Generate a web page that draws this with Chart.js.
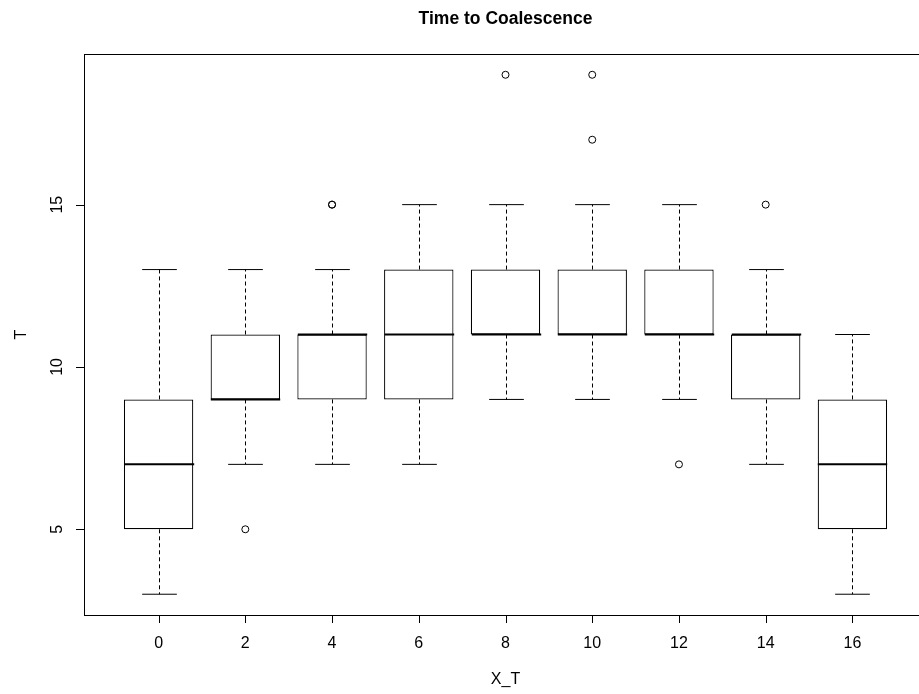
<!DOCTYPE html>
<html>
<head>
<meta charset="utf-8">
<script src="https://cdn.jsdelivr.net/npm/chart.js@4/dist/chart.umd.min.js"></script>
<style>
  html, body { margin: 0; padding: 0; background: #fff; overflow: hidden; }
  #wrap { width: 940px; height: 694px; }
</style>
</head>
<body>
<div id="wrap"><canvas id="boxChart" width="940" height="694"></canvas></div>
<script>
// categories of X_T and the five-number summaries
const categories = ["0", "2", "4", "6", "8", "10", "12", "14", "16"];
const whiskerLow = [3, 7, 7, 7, 9, 9, 9, 7, 3];
const boxLow = [5, 9, 9, 9, 11, 11, 11, 9, 5];
const medians = [7, 9, 11, 11, 11, 11, 11, 11, 7];
const boxHigh = [9, 11, 11, 13, 13, 13, 13, 11, 9];
const whiskerHigh = [13, 13, 13, 15, 15, 15, 15, 13, 11];
// outliers: category index + value
const outlierCat = [1, 2, 2, 4, 5, 5, 6, 7];
const outlierVal = [5, 15, 15, 19, 17, 19, 7, 15];
const yTicks = [5, 10, 15];

const chartTitle = "Time to Coalescence";
const xTitle = "X_T";
const yTitle = "T";

const FONT = "'Liberation Sans', Arial, sans-serif";

const positions = categories.map((c, i) => i + 1);

const boxPlugin = {
  id: "boxExtras",
  afterDatasetsDraw(chart) {
    const ctx = chart.ctx;
    const x = chart.scales.x, y = chart.scales.y;
    const unit = x.getPixelForValue(2) - x.getPixelForValue(1);
    ctx.save();
    ctx.strokeStyle = "#000";
    positions.forEach((p, i) => {
      const cx = Math.round(x.getPixelForValue(p)) + 0.5;
      // dashed whiskers
      ctx.lineWidth = 1;
      ctx.setLineDash([4, 3]);
      ctx.beginPath();
      ctx.moveTo(cx, y.getPixelForValue(boxHigh[i]));
      ctx.lineTo(cx, y.getPixelForValue(whiskerHigh[i]));
      ctx.moveTo(cx, y.getPixelForValue(boxLow[i]));
      ctx.lineTo(cx, y.getPixelForValue(whiskerLow[i]));
      ctx.stroke();
      // caps
      ctx.setLineDash([]);
      const half = unit * 0.2;
      ctx.beginPath();
      [whiskerHigh[i], whiskerLow[i]].forEach(v => {
        const py = y.getPixelForValue(v);
        ctx.moveTo(cx - half, py);
        ctx.lineTo(cx + half, py);
      });
      ctx.stroke();
      // median
      ctx.lineWidth = 2;
      const bh = unit * 0.4;
      const my = y.getPixelForValue(medians[i]);
      ctx.beginPath();
      ctx.moveTo(cx - bh, my);
      ctx.lineTo(cx + bh, my);
      ctx.stroke();
    });
    ctx.restore();
  },
  afterDraw(chart) {
    const ctx = chart.ctx;
    const a = chart.chartArea;
    const x = chart.scales.x, y = chart.scales.y;
    ctx.save();
    ctx.strokeStyle = "#000";
    ctx.lineWidth = 1;
    // frame
    ctx.strokeRect(Math.round(a.left) + 0.5, Math.round(a.top) + 0.5,
      Math.round(a.right - a.left), Math.round(a.bottom - a.top));
    // ticks
    ctx.fillStyle = "#000";
    ctx.font = "16px " + FONT;
    ctx.textAlign = "center";
    ctx.textBaseline = "alphabetic";
    ctx.beginPath();
    positions.forEach(p => {
      const px = Math.round(x.getPixelForValue(p)) + 0.5;
      ctx.moveTo(px, a.bottom);
      ctx.lineTo(px, a.bottom + 8);
    });
    yTicks.forEach(v => {
      const py = Math.round(y.getPixelForValue(v)) + 0.5;
      ctx.moveTo(a.left, py);
      ctx.lineTo(a.left - 8, py);
    });
    ctx.stroke();
    positions.forEach((p, i) => {
      ctx.fillText(categories[i], x.getPixelForValue(p), a.bottom + 33);
    });
    // y tick labels, rotated
    yTicks.forEach(v => {
      ctx.save();
      ctx.translate(a.left - 22, y.getPixelForValue(v));
      ctx.rotate(-Math.PI / 2);
      ctx.fillText(String(v), 0, 0);
      ctx.restore();
    });
    // axis titles
    ctx.fillText(xTitle, (a.left + a.right) / 2, a.bottom + 69);
    ctx.save();
    ctx.translate(26, (a.top + a.bottom) / 2);
    ctx.rotate(-Math.PI / 2);
    ctx.fillText(yTitle, 0, 0);
    ctx.restore();
    // main title
    ctx.font = "bold 17.5px " + FONT;
    ctx.fillText(chartTitle, (a.left + a.right) / 2, 24);
    ctx.restore();
  }
};

new Chart(document.getElementById("boxChart"), {
  type: "bar",
  data: {
    datasets: [
      {
        label: "box",
        data: positions.map((p, i) => ({ x: p, y: [boxLow[i], boxHigh[i]] })),
        backgroundColor: "#fff",
        borderColor: "#000",
        borderWidth: 1.2,
        borderSkipped: false,
        barPercentage: 0.8,
        categoryPercentage: 1,
      },
      {
        type: "scatter",
        label: "outliers",
        data: outlierCat.map((c, i) => ({ x: positions[c], y: outlierVal[i] })),
        pointStyle: "circle",
        pointRadius: 3.5,
        borderColor: "#000",
        backgroundColor: "rgba(0,0,0,0)",
        borderWidth: 1,
      },
    ],
  },
  options: {
    responsive: false,
    animation: false,
    layout: { padding: { left: 84, top: 54, right: 13, bottom: 79 } },
    scales: {
      x: {
        type: "linear", min: 0.14, max: 9.86, offset: false, display: false,
        afterBuildTicks: (s) => { s.ticks = positions.map(v => ({ value: v })); },
      },
      y: { type: "linear", min: 2.36, max: 19.64, display: false },
    },
    plugins: {
      legend: { display: false },
      tooltip: { enabled: false },
      title: { display: false },
    },
  },
  plugins: [boxPlugin],
});
</script>
</body>
</html>
